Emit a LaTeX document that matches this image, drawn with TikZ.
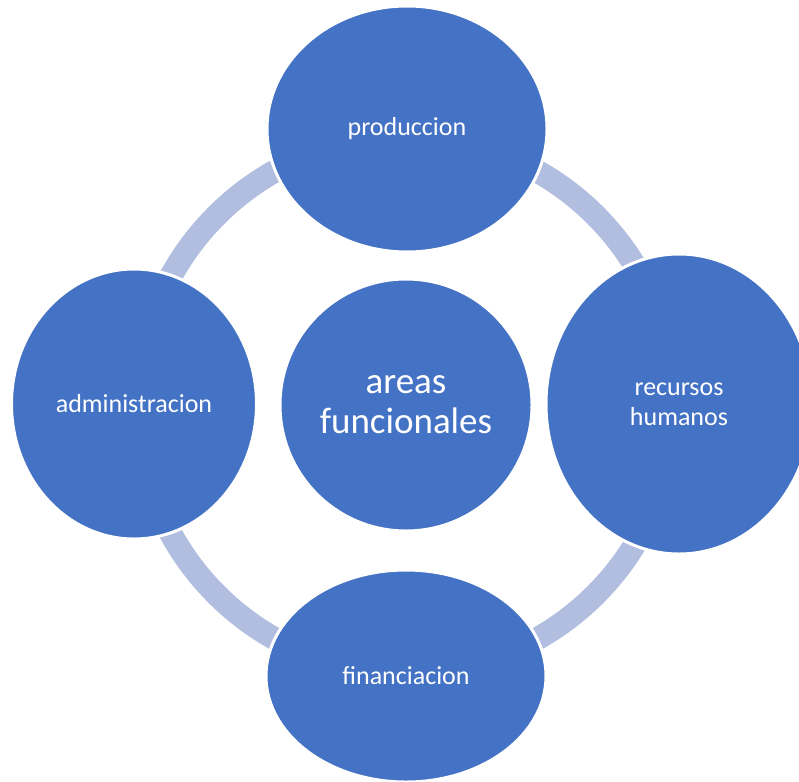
\documentclass[tikz,border=0pt]{standalone}
\usepackage{fontspec}
\setmainfont{Carlito}
\usepackage{tikz}
\usetikzlibrary{shapes.geometric}
\definecolor{areablue}{RGB}{68,114,196}
\definecolor{ringblue}{RGB}{178,190,224}

\begin{document}
\begin{tikzpicture}[x=1pt,y=-1pt,
  area/.style={ellipse,fill=areablue,draw=white,line width=3pt,inner sep=0pt,
    text=white,align=center,font=\fontsize{26}{30}\selectfont},
  ring/.style={draw=ringblue,line width=23pt}]
\useasboundingbox (0,0) rectangle (799,781);
\clip (0,0) rectangle (799,781);
% ring round the middle
\coordinate (mid) at (406,405);
\draw[ring] (mid) circle (268);
% the four areas and the centre
\node[area,minimum width=252pt,minimum height=252pt,font=\fontsize{37}{40}\selectfont] (centro) at (mid) {areas\\funcionales};
\node[area,minimum width=280pt,minimum height=246pt] (produccion) at (407,129) {produccion};
\node[area,minimum width=266pt,minimum height=300pt] (rrhh) at (679,404) {recursos\\humanos};
\node[area,minimum width=280pt,minimum height=212pt] (financiacion) at (406,676) {financiacion};
\node[area,minimum width=245pt,minimum height=270pt] (administracion) at (134,404) {administracion};
\end{tikzpicture}
\end{document}
